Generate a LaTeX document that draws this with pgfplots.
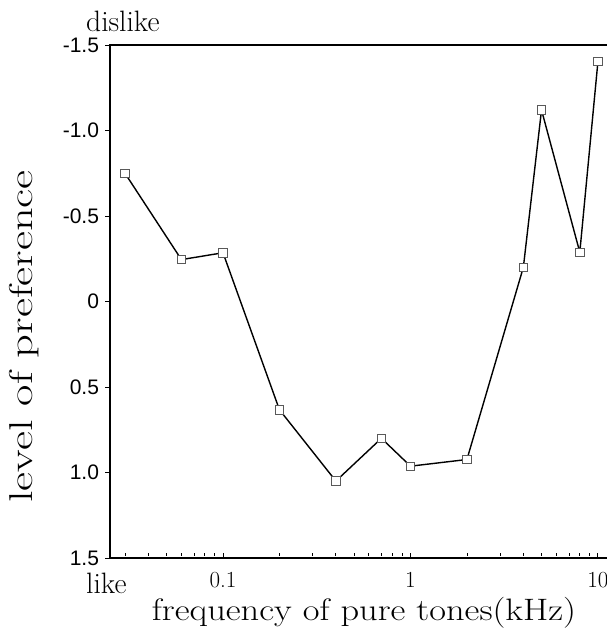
\documentclass[border=0pt]{standalone}
\usepackage{fontspec}
\usepackage{pgfplots}
\pgfplotsset{compat=1.18}
\newfontfamily\arial{Liberation Sans}
\begin{document}
\begin{tikzpicture}
\begin{axis}[
  scale only axis,
  width=502pt, height=513pt,
  xmode=log,
  xmin=0.02496, xmax=11.88,
  ymin=-1.5, ymax=1.5,
  y dir=reverse,
  axis line style={line width=1.6pt},
  tick align=center,
  xtick pos=bottom, ytick pos=left,
  xtick={0.1,1,10},
  xticklabels={0.1,1,10},
  minor xtick={0.03,0.04,0.05,0.06,0.07,0.08,0.09,0.2,0.3,0.4,0.5,0.6,0.7,0.8,0.9,2,3,4,5,6,7,8,9},
  major tick length=5pt,
  minor tick length=3pt,
  xtick style={black, line width=1pt, yshift=2.5pt},
  minor x tick style={black, line width=0.8pt, yshift=1.5pt},
  ytick={-1.5,-1,-0.5,0,0.5,1,1.5},
  yticklabels={-1.5,-1.0,-0.5,0,0.5,1.0,1.5},
  ytick style={black, line width=1pt, xshift=-2.5pt},
  yticklabel style={font=\arial\fontsize{21}{21}\selectfont, xshift=-5pt},
  xticklabel style={font=\fontsize{23}{23}\selectfont, yshift=-8pt},
  clip=false,
]
\addplot[black, line width=1.4pt, mark=square*, mark size=4.2pt,
  mark options={fill=white, draw=black!65, line width=0.8pt}]
  coordinates {
  (0.03,-0.75) (0.06,-0.245) (0.1,-0.285) (0.2,0.633) (0.4,1.05)
  (0.7,0.80) (1,0.963) (2,0.924) (4,-0.20) (5,-1.12) (8,-0.288) (10,-1.405)
  };
\coordinate (bl) at (rel axis cs:0,0);
\end{axis}
\node[anchor=base west, font=\fontsize{29.5}{29.5}\selectfont, inner sep=0pt] at ([shift={(-24pt,526pt)}]bl) {dislike};
\node[anchor=base west, font=\fontsize{29.5}{29.5}\selectfont, inner sep=0pt] at ([shift={(-24pt,-35pt)}]bl) {like};
\node[anchor=base, inner sep=0pt] at ([shift={(254pt,-62pt)}]bl) {\scalebox{1.175}[1]{\fontsize{31}{31}\selectfont frequency of pure tones(kHz)}};
\node[anchor=base, rotate=90, inner sep=0pt] at ([shift={(-77pt,221.5pt)}]bl) {\scalebox{1.41}[1]{\fontsize{33}{33}\selectfont level of preference}};
\pgfresetboundingbox
\path[use as bounding box] ([shift={(-110pt,-71pt)}]bl) rectangle ([shift={(497pt,558pt)}]bl);
\end{tikzpicture}
\end{document}
